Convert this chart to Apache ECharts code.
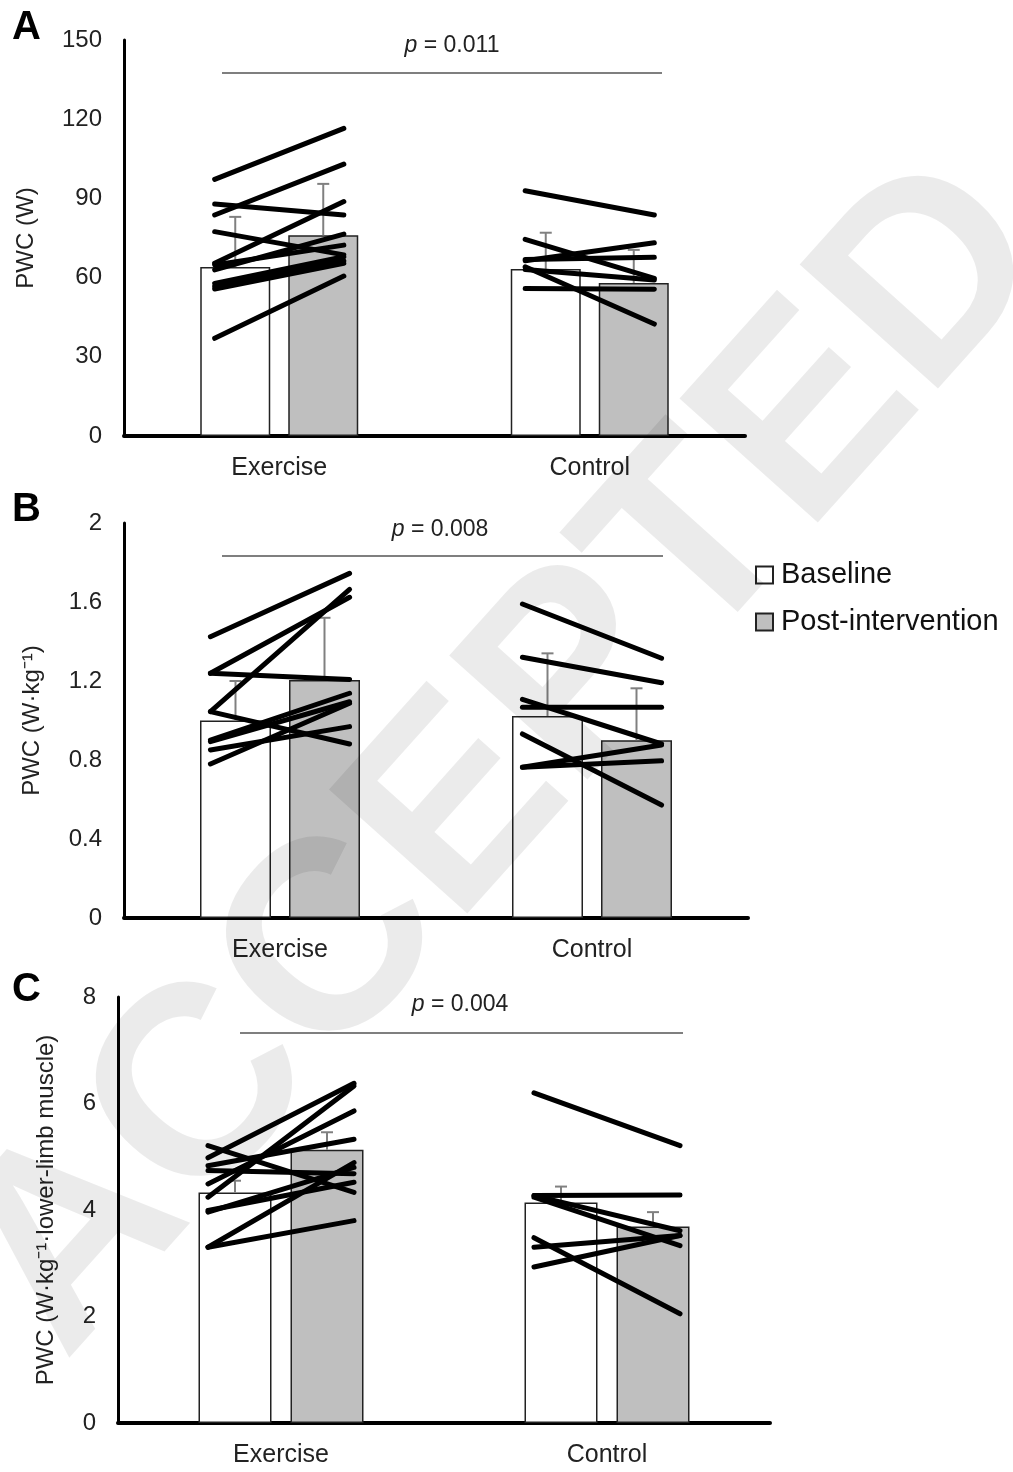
<!DOCTYPE html>
<html>
<head>
<meta charset="utf-8">
<title>PWC</title>
<script src="https://cdn.jsdelivr.net/npm/echarts@6/dist/echarts.min.js"></script>
<style>
	html, body { margin: 0; padding: 0; background: #fff; }
	#main { width: 1013px; height: 1472px; }
</style>
</head>
<body>
<div id="main"></div>
<script>
	// 分组
	let groups = ['Exercise', 'Control'];

	// A: PWC (W)
	let baseA = [64, 63.3];
	let postA = [76, 58];
	let sdBaseA = [19, 13.7];
	let sdPostA = [19.5, 12.5];
	let subjExA = [[97.2, 116.5], [83.7, 103], [87.9, 83.7], [77.4, 68.6], [65.4, 88.8], [62.9, 76.5],
		[64.8, 72.3], [57.8, 67.9], [56.6, 66.4], [55.7, 65.4], [37, 60.6]];
	let subjCtA = [[92.9, 83.7], [74.5, 59.7], [66.4, 73.2], [66.9, 67.7], [64.1, 42.4], [63.1, 59.1], [55.9, 55.6]];

	// B: PWC (W·kg-1)
	let baseB = [1.0, 1.023];
	let postB = [1.205, 0.9];
	let sdBaseB = [0.2, 0.317];
	let sdPostB = [0.315, 0.263];
	let subjExB = [[1.424, 1.745], [1.239, 1.624], [1.045, 1.664], [1.239, 1.208], [1.045, 0.881],
		[0.901, 1.138], [0.893, 1.095], [0.851, 0.969], [0.78, 1.087]];
	let subjCtB = [[1.59, 1.315], [1.32, 1.191], [1.107, 0.881], [1.067, 1.067], [0.932, 0.572], [0.763, 0.876], [0.763, 0.796]];

	// C: PWC (W·kg-1·lower-limb muscle)
	let baseC = [4.33, 4.14];
	let postC = [5.13, 3.69];
	let sdBaseC = [0.22, 0.3];
	let sdPostC = [0.33, 0.27];
	let subjExC = [[4.24, 6.33], [4.98, 6.38], [5.21, 4.33], [4.83, 5.33], [4.74, 4.68], [4.49, 5.86],
		[3.96, 4.8], [3.99, 4.52], [3.3, 4.89], [3.3, 3.8]];
	let subjCtC = [[6.2, 5.21], [4.27, 4.28], [4.27, 3.61], [4.24, 3.33], [3.48, 2.05], [3.3, 3.52], [2.93, 3.52]];

	// 轴刻度
	let ticksA = { min: 0, max: 150, interval: 30 };
	let ticksB = { min: 0, max: 2, interval: 0.4 };
	let ticksC = { min: 0, max: 8, interval: 2 };

	let pTexts = ['0.011', '0.008', '0.004'];

	let font = 'Liberation Sans';

	// 误差线 (只画上半)
	function errRender(side, off) {
		return function(params, api) {
			let c = api.coord([api.value(0), api.value(1)]);
			let t = api.coord([api.value(0), api.value(1) + api.value(2)]);
			let x = c[0] + side * off;
			let st = { stroke: '#808080', lineWidth: 2 };
			return {
				type: 'group',
				children: [
					{ type: 'line', shape: { x1: x, y1: c[1], x2: x, y2: t[1] }, style: st },
					{ type: 'line', shape: { x1: x - 6, y1: t[1], x2: x + 6, y2: t[1] }, style: st }
				]
			};
		};
	}

	// 个体连线
	function subjRender(frac) {
		return function(params, api) {
			let band = api.size([1, 0])[0];
			let half = band * frac;
			let p1 = api.coord([api.value(0), api.value(1)]);
			let p2 = api.coord([api.value(0), api.value(2)]);
			return {
				type: 'line',
				shape: { x1: p1[0] - half, y1: p1[1], x2: p2[0] + half, y2: p2[1] },
				style: { stroke: '#000', lineWidth: 5, lineCap: 'round' }
			};
		};
	}

	function subjData(ex, ct) {
		return ex.map(d => [0, d[0], d[1]]).concat(ct.map(d => [1, d[0], d[1]]));
	}

	function errData(vals, sds) {
		return vals.map((v, i) => [i, v, sds[i]]);
	}

	let grids = [
		{ left: 124, top: 40, width: 621, height: 396 },
		{ left: 124, top: 523, width: 624, height: 395 },
		{ left: 118, top: 997, width: 652, height: 426 }
	];
	let yNames = ['PWC (W)', 'PWC (W·kg⁻¹)', 'PWC (W·kg⁻¹·lower-limb muscle)'];
	let nameGaps = [86, 80, 60];
	let tickSets = [ticksA, ticksB, ticksC];
	let barW = [70, 71, 73];
	let barG = [18, 18, 19];
	let fracs = [0.208, 0.223, 0.224];
	let bases = [baseA, baseB, baseC];
	let posts = [postA, postB, postC];
	let sdBases = [sdBaseA, sdBaseB, sdBaseC];
	let sdPosts = [sdPostA, sdPostB, sdPostC];
	let subjs = [subjData(subjExA, subjCtA), subjData(subjExB, subjCtB), subjData(subjExC, subjCtC)];

	let xAxis = [];
	let yAxis = [];
	let series = [];
	grids.forEach((g, i) => {
		xAxis.push({
			type: 'category',
			gridIndex: i,
			data: groups,
			axisTick: { show: false },
			axisLine: { lineStyle: { color: '#000', width: 4 } },
			axisLabel: { color: '#222', fontSize: 25, fontFamily: font, margin: 20 }
		});
		yAxis.push({
			type: 'value',
			gridIndex: i,
			min: tickSets[i].min,
			max: tickSets[i].max,
			interval: tickSets[i].interval,
			name: yNames[i],
			nameLocation: 'middle',
			nameGap: nameGaps[i],
			nameTextStyle: { color: '#222', fontSize: 24, fontFamily: font },
			splitLine: { show: false },
			axisTick: { show: false },
			axisLine: { show: true, lineStyle: { color: '#000', width: 3 } },
			axisLabel: { color: '#222', fontSize: 24, fontFamily: font, margin: 22 }
		});
		let off = (barW[i] + barG[i]) / 2;
		series.push({
			name: 'Baseline',
			type: 'bar',
			xAxisIndex: i,
			yAxisIndex: i,
			data: bases[i],
			barWidth: barW[i],
			barGap: (barG[i] / barW[i] * 100) + '%',
			itemStyle: { color: '#fff', borderColor: '#222', borderWidth: 1.5 },
			z: 2
		}, {
			name: 'Post-intervention',
			type: 'bar',
			xAxisIndex: i,
			yAxisIndex: i,
			data: posts[i],
			barWidth: barW[i],
			itemStyle: { color: '#bfbfbf', borderColor: '#222', borderWidth: 1.5 },
			z: 2
		}, {
			type: 'custom',
			xAxisIndex: i,
			yAxisIndex: i,
			renderItem: errRender(-1, off),
			encode: { x: 0, y: 1 },
			data: errData(bases[i], sdBases[i]),
			silent: true,
			z: 3
		}, {
			type: 'custom',
			xAxisIndex: i,
			yAxisIndex: i,
			renderItem: errRender(1, off),
			encode: { x: 0, y: 1 },
			data: errData(posts[i], sdPosts[i]),
			silent: true,
			z: 3
		}, {
			type: 'custom',
			xAxisIndex: i,
			yAxisIndex: i,
			renderItem: subjRender(fracs[i]),
			encode: { x: 0, y: [1, 2] },
			data: subjs[i],
			silent: true,
			z: 4
		});
	});

	// p值标注
	let pLines = [
		{ x1: 222, x2: 662, y: 73, tx: 452, ty: 46 },
		{ x1: 222, x2: 663, y: 556, tx: 440, ty: 530 },
		{ x1: 240, x2: 683, y: 1033, tx: 460, ty: 1005 }
	];
	let graphic = [];
	pLines.forEach((p, i) => {
		graphic.push({
			type: 'line',
			shape: { x1: p.x1, y1: p.y, x2: p.x2, y2: p.y },
			style: { stroke: '#555', lineWidth: 1.5 }
		}, {
			type: 'text',
			x: p.tx,
			y: p.ty,
			style: {
				text: '{i|p} = ' + pTexts[i],
				fontSize: 23,
				fontFamily: font,
				fill: '#222',
				align: 'center',
				verticalAlign: 'middle',
				rich: { i: { fontStyle: 'italic', fontSize: 23, fontFamily: font, fill: '#222' } }
			}
		});
	});
	// 面板字母
	[['A', 8], ['B', 490], ['C', 970]].forEach(item => {
		graphic.push({
			type: 'text',
			x: 12,
			y: item[1],
			style: { text: item[0], fontSize: 40, fontWeight: 'bold', fontFamily: font, fill: '#000' }
		});
	});
	// 水印
	graphic.push({
		type: 'text',
		x: 505,
		y: 760,
		rotation: 0.84,
		z: 100,
		silent: true,
		style: {
			text: 'ACCEPTED',
			fontSize: 270,
			fontWeight: 'bold',
			fontFamily: font,
			fill: 'rgba(0,0,0,0.08)',
			align: 'center',
			verticalAlign: 'middle'
		}
	});

	let myChart = echarts.init(document.getElementById('main'));
	myChart.setOption({
		animation: false,
		grid: grids,
		xAxis: xAxis,
		yAxis: yAxis,
		legend: {
			data: ['Baseline', 'Post-intervention'],
			orient: 'vertical',
			left: 755,
			top: 560,
			padding: 0,
			icon: 'rect',
			itemWidth: 17,
			itemHeight: 17,
			itemGap: 17,
			selectedMode: false,
			textStyle: { color: '#111', fontSize: 29, fontFamily: font, lineHeight: 30, padding: [0, 0, 0, 3] }
		},
		graphic: graphic,
		series: series
	});
</script>
</body>
</html>
